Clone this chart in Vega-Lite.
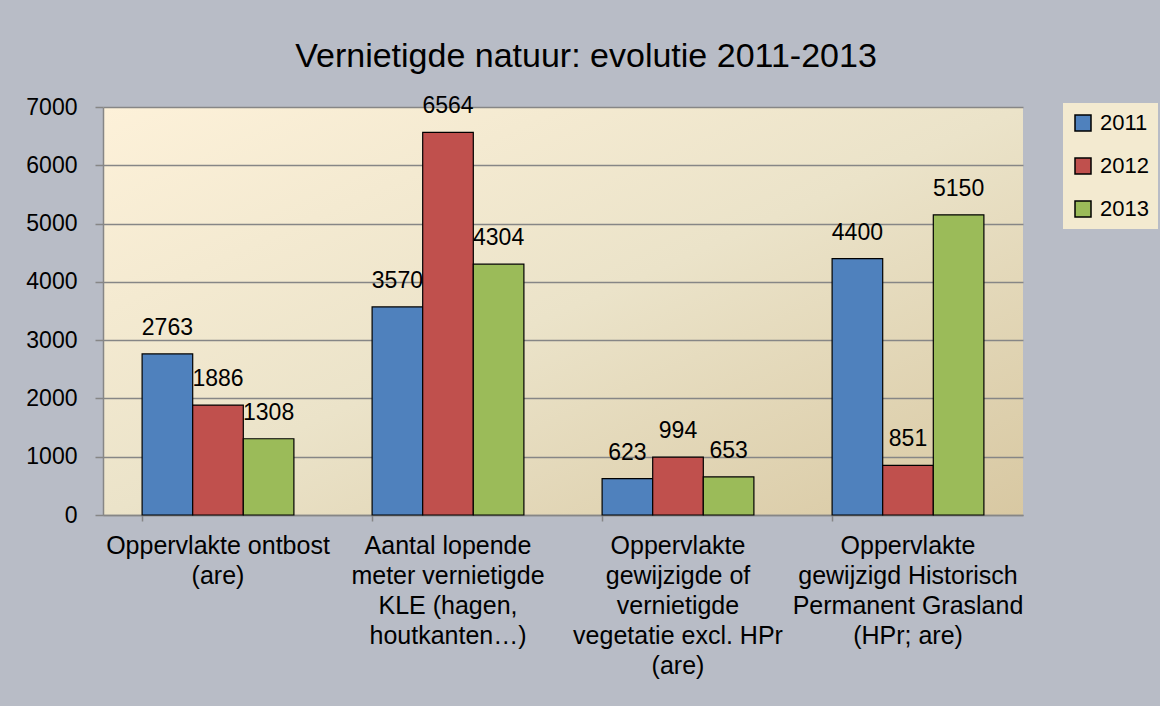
{
  "$schema": "https://vega.github.io/schema/vega-lite/v6.json",
  "width": 920,
  "height": 408,
  "autosize": {"type": "none"},
  "padding": {"left": 103, "top": 107, "right": 137, "bottom": 191},
  "background": "#b8bcc6",
  "title": {
    "text": "Vernietigde natuur: evolutie 2011-2013",
    "fontSize": 34,
    "fontWeight": "normal",
    "font": "Liberation Sans",
    "color": "#000000",
    "anchor": "middle",
    "frame": "group",
    "offset": 21,
    "dx": 23
  },
  "data": {
    "values": [
      {"cat": "Oppervlakte ontbost|(are)", "year": "2011", "value": 2763},
      {"cat": "Oppervlakte ontbost|(are)", "year": "2012", "value": 1886},
      {"cat": "Oppervlakte ontbost|(are)", "year": "2013", "value": 1308},
      {"cat": "Aantal lopende|meter vernietigde|KLE (hagen,|houtkanten…)", "year": "2011", "value": 3570},
      {"cat": "Aantal lopende|meter vernietigde|KLE (hagen,|houtkanten…)", "year": "2012", "value": 6564},
      {"cat": "Aantal lopende|meter vernietigde|KLE (hagen,|houtkanten…)", "year": "2013", "value": 4304},
      {"cat": "Oppervlakte|gewijzigde of|vernietigde|vegetatie  excl. HPr|(are)", "year": "2011", "value": 623},
      {"cat": "Oppervlakte|gewijzigde of|vernietigde|vegetatie  excl. HPr|(are)", "year": "2012", "value": 994},
      {"cat": "Oppervlakte|gewijzigde of|vernietigde|vegetatie  excl. HPr|(are)", "year": "2013", "value": 653},
      {"cat": "Oppervlakte|gewijzigd Historisch|Permanent Grasland|(HPr; are)", "year": "2011", "value": 4400},
      {"cat": "Oppervlakte|gewijzigd Historisch|Permanent Grasland|(HPr; are)", "year": "2012", "value": 851},
      {"cat": "Oppervlakte|gewijzigd Historisch|Permanent Grasland|(HPr; are)", "year": "2013", "value": 5150}
    ]
  },
  "encoding": {
    "x": {
      "field": "cat",
      "type": "nominal",
      "sort": null,
      "scale": {"paddingInner": 0.34, "paddingOuter": 0.17},
      "axis": {
        "title": null,
        "labelAngle": 0,
        "tickSize": 6,
        "bandPosition": 0,
        "labelFontSize": 25,
        "labelLineHeight": 30,
        "labelPadding": 12,
        "labelLimit": 0,
        "labelExpr": "split(datum.value, '|')",
        "grid": false
      }
    },
    "xOffset": {"field": "year", "type": "nominal", "scale": {"paddingInner": 0, "paddingOuter": 0}},
    "y": {
      "field": "value",
      "type": "quantitative",
      "scale": {"domain": [0, 7000], "nice": false},
      "axis": {
        "title": null,
        "values": [0, 1000, 2000, 3000, 4000, 5000, 6000, 7000],
        "format": "d",
        "grid": true,
        "tickSize": 8,
        "labelPadding": 18,
        "labelFontSize": 23
      }
    }
  },
  "layer": [
    {
      "mark": {"type": "bar", "stroke": "#000000", "strokeWidth": 1.2},
      "encoding": {
        "color": {
          "field": "year",
          "type": "nominal",
          "scale": {"domain": ["2011", "2012", "2013"], "range": ["#4f81bd", "#c0504d", "#9bbb59"]},
          "legend": {
            "title": null,
            "orient": "none",
            "legendX": 960,
            "legendY": -4,
            "fillColor": "#f3ead0",
            "strokeColor": null,
            "padding": 9,
            "rowPadding": 21,
            "symbolType": "square",
            "symbolSize": 256,
            "symbolStrokeColor": "#000000",
            "symbolStrokeWidth": 1.5,
            "symbolOpacity": 1,
            "labelFontSize": 22,
            "labelFont": "Liberation Sans",
            "labelColor": "#000000",
            "labelOffset": 6
          }
        }
      }
    },
    {
      "mark": {"type": "text", "baseline": "alphabetic", "dy": -19, "fontSize": 23, "font": "Liberation Sans", "color": "#000000"},
      "encoding": {"text": {"field": "value", "type": "quantitative", "format": "d"}}
    }
  ],
  "config": {
    "font": "Liberation Sans",
    "view": {
      "stroke": null,
      "fill": {
        "gradient": "linear",
        "x1": 0, "y1": 0, "x2": 1, "y2": 1,
        "stops": [
          {"offset": 0, "color": "#fdf1d9"},
          {"offset": 0.5, "color": "#ebe3c9"},
          {"offset": 1, "color": "#d8c8a2"}
        ]
      }
    },
    "axis": {
      "labelFont": "Liberation Sans",
      "labelColor": "#000000",
      "domainColor": "#868686",
      "tickColor": "#868686",
      "gridColor": "#868686",
      "domainWidth": 1.5,
      "tickWidth": 1.5,
      "gridWidth": 1.5
    }
  }
}
